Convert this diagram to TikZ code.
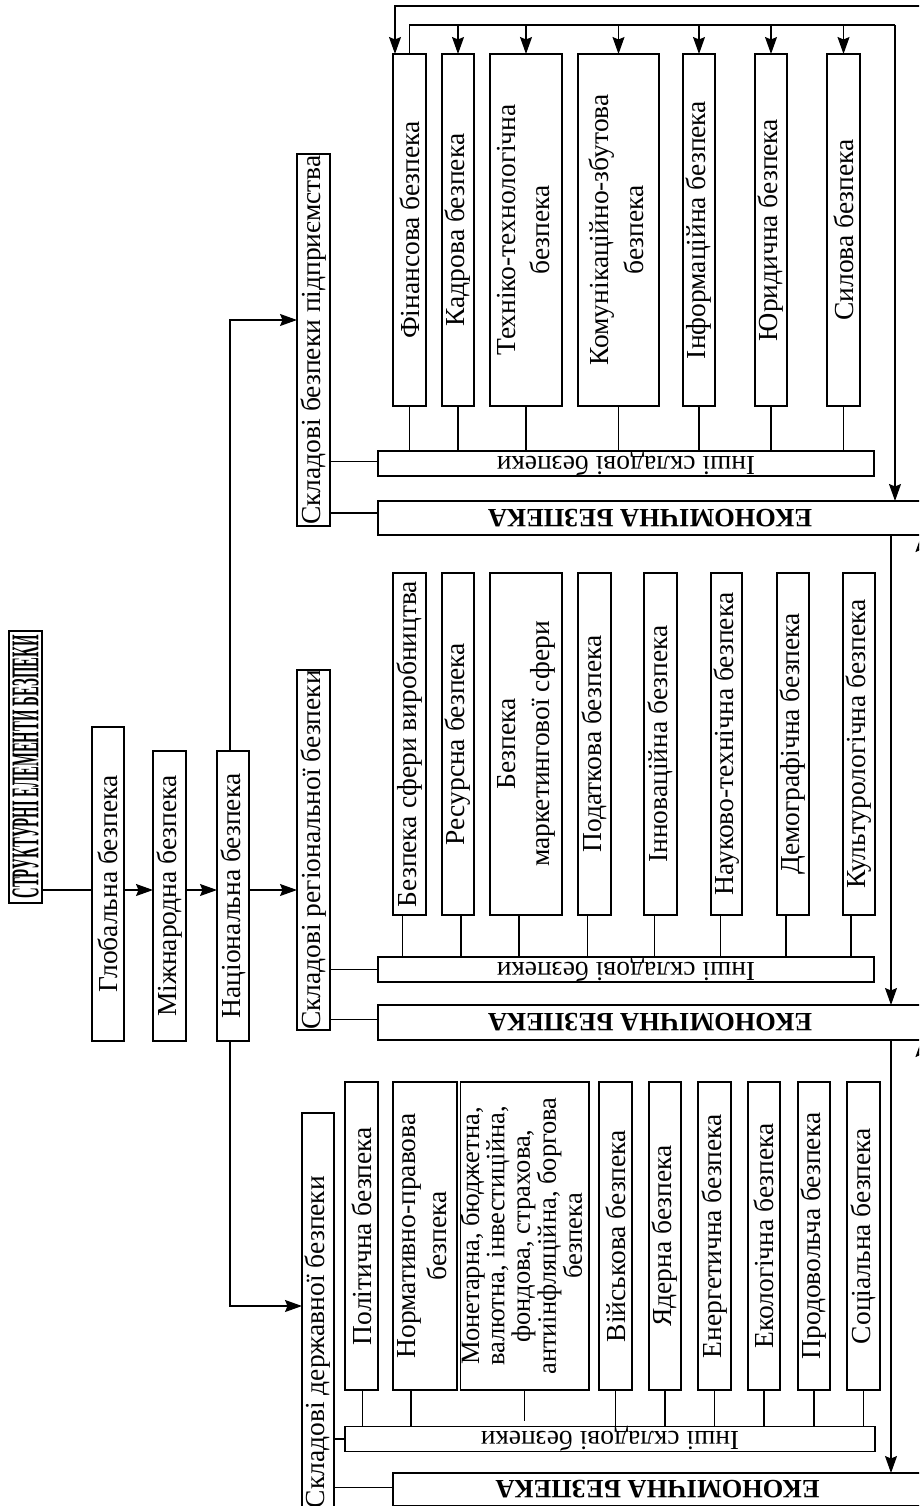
\documentclass[tikz,border=0pt]{standalone}
\usepackage{fontspec}
\usepackage{graphicx}
\setmainfont{Liberation Serif}
\usetikzlibrary{arrows.meta}
\tikzset{
  bx/.style={draw, line width=1.3pt, inner sep=0pt, outer sep=0pt, font=\fontsize{27.5}{30}\selectfont},
  ln/.style={line width=1.2pt},
  arr/.style={line width=1.2pt, -{Stealth[length=17pt,width=12pt,inset=2.5pt]}},
}
\newcommand\mybox[6]{\node[bx, minimum width={(#4)-(#2)}, minimum height={(#5)-(#3)}] (#1) at ({((#2)+(#4))/2},{((#3)+(#5))/2}) {#6};}
\newcommand\vt[1]{\rotatebox{90}{#1}}
\newcommand\vtwo[3]{\rotatebox{90}{\fontsize{#1}{#2}\selectfont\begin{tabular}{@{}c@{}}#3\end{tabular}}}
\newcommand\upd[1]{\rotatebox{180}{#1}}
\newcommand\econtext{\rotatebox{180}{\resizebox{324pt}{!}{\bfseries ЕКОНОМІЧНА БЕЗПЕКА}}}
\begin{document}
\begin{tikzpicture}[x=1pt,y=-1pt]
\useasboundingbox (0,0) rectangle (919,1506);
\clip (0,0) rectangle (919,1506);

% main chain
\mybox{title}{9}{631}{42}{903}{\rotatebox{90}{\resizebox{263pt}{26pt}{\bfseries СТРУКТУРНІ ЕЛЕМЕНТИ БЕЗПЕКИ}}}
\mybox{glob}{92}{727}{124}{1041}{\vt{Глобальна безпека}}
\mybox{mizh}{153}{751}{186}{1041}{\vt{Міжнародна безпека}}
\mybox{nat}{217}{751}{249}{1041}{\vt{Національна безпека}}

% section 1
\mybox{skp}{297}{154}{330}{526}{\vt{Складові безпеки підприємства}}
\mybox{fin}{393}{54}{426}{406}{\vt{Фінансова безпека}}
\mybox{kad}{442}{54}{474}{406}{\vt{Кадрова безпека}}
\mybox{tech}{490}{54}{562}{406}{\vtwo{27.5}{34}{Техніко-технологічна\\безпека}}
\mybox{kom}{578}{54}{659}{406}{\vtwo{27.5}{35}{Комунікаційно-збутова\\безпека}}
\mybox{inf}{683}{54}{715}{406}{\vt{Інформаційна безпека}}
\mybox{yur}{755}{54}{787}{406}{\vt{Юридична безпека}}
\mybox{syl}{827}{54}{860}{406}{\vt{Силова безпека}}
\mybox{ia}{378}{451}{874}{476}{\upd{Інші складові безпеки}}
\mybox{ea}{378}{501}{922}{535}{\econtext}

% section 2
\mybox{skr}{297}{670}{330}{1030}{\vt{Складові регіональної безпеки}}
\mybox{s1}{393}{573}{426}{915}{\vt{Безпека сфери виробництва}}
\mybox{s2}{442}{573}{474}{915}{\vt{Ресурсна безпека}}
\mybox{s3}{490}{573}{562}{915}{\vtwo{27.5}{34}{Безпека\\маркетингової сфери}}
\mybox{s4}{578}{573}{611}{915}{\vt{Податкова безпека}}
\mybox{s5}{644}{573}{677}{915}{\vt{Інноваційна безпека}}
\mybox{s6}{711}{573}{742}{915}{\vt{Науково-технічна безпека}}
\mybox{s7}{777}{573}{809}{915}{\vt{Демографічна безпека}}
\mybox{s8}{843}{573}{875}{915}{\vt{Культурологічна безпека}}
\mybox{ib}{378}{957}{874}{982}{\upd{Інші складові безпеки}}
\mybox{eb}{378}{1005}{922}{1040}{\econtext}

% section 3
\mybox{skd}{302}{1113}{334}{1571}{\vt{Складові державної безпеки}}
\mybox{d1}{345}{1082}{378}{1390}{\vt{Політична безпека}}
\mybox{d2}{393}{1082}{457}{1390}{\vtwo{27.5}{31}{Нормативно-правова\\безпека}}
\mybox{d3}{466}{1082}{583}{1390}{\vtwo{26.5}{23.5}{Монетарна, бюджетна,\\валютна, інвестиційна,\\фондова, страхова,\\антиінфляційна, боргова\\безпека}}
\mybox{d4}{599}{1082}{632}{1390}{\vt{Військова безпека}}
\mybox{d5}{649}{1082}{681}{1390}{\vt{Ядерна безпека}}
\mybox{d6}{698}{1082}{731}{1390}{\vt{Енергетична безпека}}
\mybox{d7}{748}{1082}{780}{1390}{\vt{Екологічна безпека}}
\mybox{d8}{798}{1082}{830}{1390}{\vt{Продовольча безпека}}
\mybox{d9}{847}{1082}{880}{1390}{\vt{Соціальна безпека}}
\mybox{ic}{345}{1427}{875}{1451}{\upd{Інші складові безпеки}}
\mybox{ec}{393}{1473}{922}{1506}{\econtext}

% chain connectors
\coordinate (row) at (0,890);
\draw[ln] (title.east |- row) -- (glob.west |- row);
\draw[arr] (glob.east |- row) -- (mizh.west |- row);
\draw[arr] (mizh.east |- row) -- (nat.west |- row);
\draw[arr] (nat.east |- row) -- (skr.west |- row);
\coordinate (natx) at (230,0);
\coordinate (rowP) at (0,320);
\coordinate (rowD) at (0,1306);
\draw[arr] (nat.north -| natx) |- (skp.west |- rowP);
\draw[arr] (nat.south -| natx) |- (skd.west |- rowD);

% section 1 connectors
\foreach \n in {fin,kad,tech,kom,inf,yur,syl} \draw[ln] (\n.south) -- (\n.south |- ia.north);
\draw[ln] ([yshift=2pt]skp.east |- ia.west) -- ([yshift=2pt]ia.west);
\draw[ln] ([yshift=5pt]skp.east |- ea.west) -- ([yshift=5pt]ea.west);
\coordinate (topR) at (935,6);
\draw[arr] (topR) -| ([xshift=2pt]fin.north west);
\coordinate (bus) at (895,25);
\draw[ln] (fin.north) |- (bus);
\draw[arr] (bus) -- (bus |- ea.north);
\foreach \n in {kad,tech,kom,inf,yur,syl} \draw[arr] (\n.north |- bus) -- (\n.north);

% section 2 connectors
\foreach \n/\s in {s1/-7,s2/3,s3/-7,s4/-7,s5/-6,s6/-6,s7/-7,s8/-8} \draw[ln] ([xshift=\s pt]\n.south) -- ([xshift=\s pt]\n.south |- ib.north);
\draw[ln] (skr.east |- ib.west) -- (ib.west);
\draw[ln] ([yshift=3pt]skr.east |- eb.west) -- ([yshift=3pt]eb.west);

% section 3 connectors
\foreach \n/\s in {d1/1,d2/-14,d4/0,d5/0,d6/0,d7/0,d8/0,d9/0} \draw[ln] ([xshift=\s pt]\n.south) -- ([xshift=\s pt]\n.south |- ic.north);
\draw[ln] (d3.south) -- ([yshift=6pt]d3.south |- ic.north);
\draw[ln] (skd.east |- ic.west) -- (ic.west);
\draw[ln] ([yshift=2pt]skd.east |- ec.west) -- ([yshift=2pt]ec.west);

% right-hand economic chain
\coordinate (vr) at (891,0);
\draw[arr] (ea.south -| vr) -- (eb.north -| vr);
\draw[arr] (eb.south -| vr) -- (ec.north -| vr);
\coordinate (offA) at (921.5,580);
\draw[arr] (offA) -- (ea.south -| offA);
\coordinate (offB) at (921.5,1085);
\draw[arr] (offB) -- (eb.south -| offB);
\end{tikzpicture}
\end{document}
